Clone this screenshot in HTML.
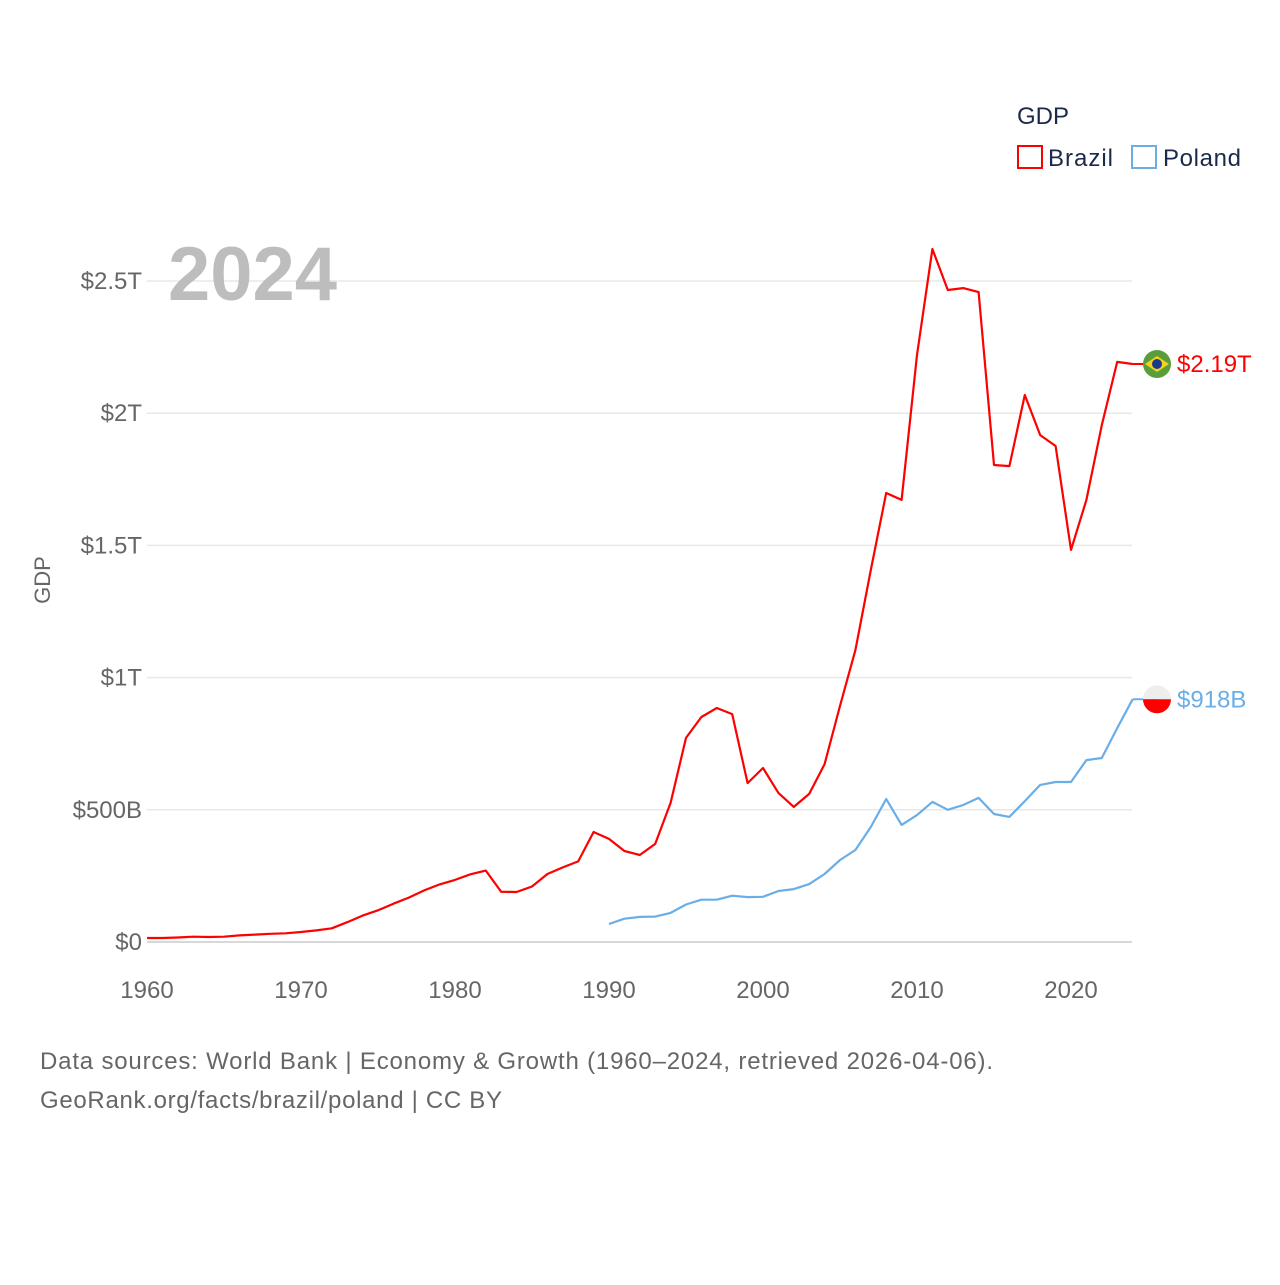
<!DOCTYPE html>
<html><head><meta charset="utf-8"><style>
body{margin:0;background:#fff;}
svg text{font-family:"Liberation Sans",sans-serif;}
</style></head><body>
<svg width="1280" height="1280" xmlns="http://www.w3.org/2000/svg" id="chart">
<g id="grid"></g>
<g id="yt"></g>
<g id="xt"></g>
<text x="168" y="300" font-size="76" font-weight="bold" fill="#bdbdbd">2024</text>
<text x="50" y="580" font-size="22" fill="#666" transform="rotate(-90 50 580)" text-anchor="middle">GDP</text>
<g id="series"></g>
<g>
<text x="1017" y="124" font-size="24" fill="#1a2a4a">GDP</text>
<g><rect x="1018" y="146" width="24" height="22" fill="none" stroke="#f00" stroke-width="2"/><text x="1048" y="166" font-size="24" fill="#1a2a4a" textLength="65">Brazil</text></g>
<g><rect x="1132" y="146" width="24" height="22" fill="none" stroke="#6aaee8" stroke-width="2"/><text x="1163" y="166" font-size="24" fill="#1a2a4a" textLength="78">Poland</text></g>
</g>
<text x="40" y="1069" font-size="24" fill="#666" textLength="953">Data sources: World Bank | Economy &amp; Growth (1960–2024, retrieved 2026-04-06).</text>
<text x="40" y="1108" font-size="24" fill="#666" textLength="462">GeoRank.org/facts/brazil/poland | CC BY</text>
</svg>
<script>
const brazilYears=[];for(let y=1960;y<=2024;y++)brazilYears.push(y);
const brazilValues=[15,15,17,20,19,20,25,28,31,33,38,44,52,75,100,120,145,168,195,218,235,256,270,190,189,210,257,282,305,416,390,344,329,371,526,772,851,885,862,601,658,564,511,560,673,893,1104,1407,1698,1672,2220,2621,2466,2473,2458,1804,1800,2069,1917,1876,1483,1672,1955,2194,2186];
const polandYears=[];for(let y=1990;y<=2024;y++)polandYears.push(y);
const polandValues=[68,88,95,96,110,142,160,160,175,170,171,193,200,219,257,310,348,435,541,443,480,530,500,518,545,484,473,533,594,605,605,688,696,809,918];
const yTickVals=[0,500,1000,1500,2000,2500];
const yTickLabels=["$0","$500B","$1T","$1.5T","$2T","$2.5T"];
const xTickVals=[1960,1970,1980,1990,2000,2010,2020];
const X=y=>147+(y-1960)*15.4;
const Y=v=>942-v*0.2644;
const NS="http://www.w3.org/2000/svg";
function mk(t,a,p){const e=document.createElementNS(NS,t);for(const k in a)e.setAttribute(k,a[k]);p.appendChild(e);return e;}
const grid=document.getElementById('grid'),yt=document.getElementById('yt'),xt=document.getElementById('xt'),ser=document.getElementById('series');
yTickVals.forEach((v,i)=>{
 const l=mk('line',{x1:147,x2:1132,y1:Y(v),y2:Y(v),stroke:i==0?'#ccc':'#e8e8e8','stroke-width':1.5},grid);
 
 
 const t=mk('text',{x:142,y:Y(v)+8,'font-size':24,fill:'#666','text-anchor':'end'},yt);t.textContent=yTickLabels[i];
 
 
});
xTickVals.forEach(v=>{
 const t=mk('text',{x:X(v),y:998,'font-size':24,fill:'#666','text-anchor':'middle'},xt);t.textContent=v;
 
 
});
function line(ys,vs,c,name){
 const d=ys.map((y,i)=>(i?'L':'M')+X(y).toFixed(1)+','+Y(vs[i]).toFixed(1)).join('');
 const p=mk('path',{d:d,fill:'none',stroke:c,'stroke-width':2.2,'stroke-linejoin':'round'},ser);
 
 
}
line(brazilYears,brazilValues,'#f00','brazil-line');
line(polandYears,polandValues,'#6aaee8','poland-line');
const bl=brazilValues[brazilValues.length-1],pl=polandValues[polandValues.length-1];
const xe=X(2024);
const c1=mk('line',{x1:xe,x2:1157,y1:Y(bl),y2:Y(bl),stroke:'#f00','stroke-width':2},ser);


const c2=mk('line',{x1:xe,x2:1157,y1:Y(pl),y2:Y(pl),stroke:'#6aaee8','stroke-width':2},ser);


const bf=mk('g',{},ser);


mk('circle',{cx:1157,cy:Y(bl),r:14,fill:'#5a9e3a'},bf);
mk('polygon',{points:`1145,${Y(bl)} 1157,${Y(bl)-8} 1169,${Y(bl)} 1157,${Y(bl)+8}`,fill:'#f5d020'},bf);
mk('circle',{cx:1157,cy:Y(bl),r:5,fill:'#1a3a8a'},bf);
const pf=mk('g',{},ser);


mk('path',{d:`M1143,${Y(pl)} A14,14 0 0 1 1171,${Y(pl)} Z`,fill:'#eee'},pf);
mk('path',{d:`M1143,${Y(pl)} A14,14 0 0 0 1171,${Y(pl)} Z`,fill:'#f00'},pf);
const bt=mk('text',{x:1177,y:Y(bl)+8,'font-size':24,fill:'#f00'},ser);bt.textContent='$2.19T';


const pt=mk('text',{x:1177,y:Y(pl)+8,'font-size':24,fill:'#6aaee8'},ser);pt.textContent='$918B';


</script>
</body></html>
